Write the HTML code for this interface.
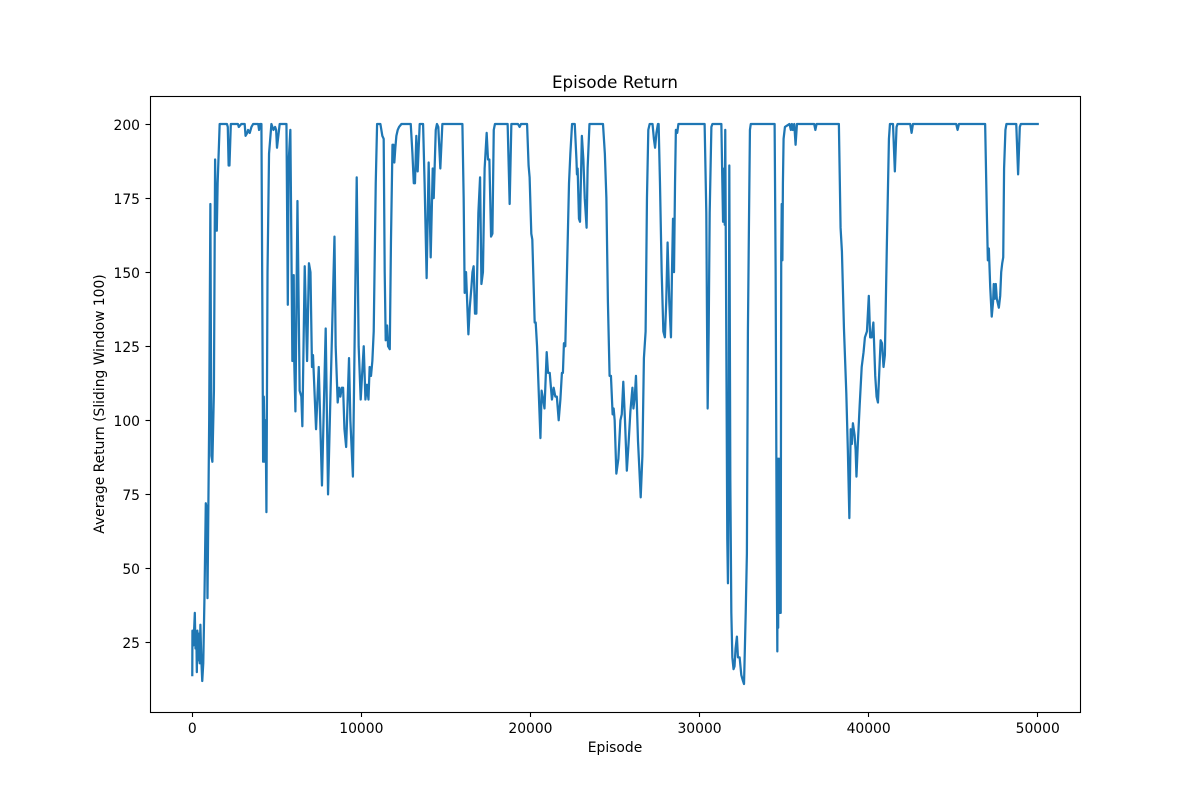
<!DOCTYPE html>
<html>
<head>
<meta charset="utf-8">
<title>Episode Return</title>
<style>
html,body{margin:0;padding:0;background:#fff;}
svg{display:block;}
text{font-family:"DejaVu Sans",sans-serif;fill:#000;}
</style>
</head>
<body>
<svg id="chart" width="1200" height="800" viewBox="0 0 1200 800" xmlns="http://www.w3.org/2000/svg">
  <rect x="0" y="0" width="1200" height="800" fill="#ffffff"/>
  <rect x="150" y="96" width="930" height="616" fill="#ffffff"/>
  <g id="marks"></g>
  <rect x="150.5" y="96.5" width="930" height="616" fill="none" stroke="#000" stroke-width="1.1"/>
  <g id="x-axis"></g>
  <g id="y-axis"></g>
  <text x="615" y="88" text-anchor="middle" font-size="16.67">Episode Return</text>
  <text x="615" y="752" text-anchor="middle" font-size="13.89">Episode</text>
  <text transform="translate(104,404) rotate(-90)" text-anchor="middle" font-size="13.89">Average Return (Sliding Window 100)</text>
</svg>
<script>
const xTicks = [0, 10000, 20000, 30000, 40000, 50000];
const yTicks = [25, 50, 75, 100, 125, 150, 175, 200];
const episodes = [
0,10,60,100,150,190,240,270,300,350,400,440,480,530,590,650,720,800,860,900,1000,1070,1130,1190,1280,1350,1400,1450,1500,1620,
2050,2100,2150,2200,2280,2700,2750,2900,3100,3150,3250,3300,3400,3500,3600,3900,3950,4000,4090,4190,4230,4290,4340,4385,4450,4540,4680,4800,4900,4960,5010,5130,5170,5570,5650,5700,5800,5860,5920,6000,6030,6100,6220,6350,6450,6510,6650,6790,6900,6990,7080,7140,7320,7480,7670,7890,8030,8170,8410,8480,8600,8680,8760,8840,8920,9000,9100,9270,9350,9500,
9725,9840,9960,10140,10240,10330,10420,10490,10570,10650,10730,10850,10930,11125,11240,11320,11380,11440,11520,11580,11680,11750,11840,11895,11950,12010,12070,12150,12230,12370,12920,13020,13100,13170,13250,13330,13450,13650,13740,13860,13980,14100,14220,14280,14400,14470,14550,14670,14790,15975,16050,16110,16190,16330,16410,16510,16570,16640,16720,16800,16920,17020,17100,17190,17290,17410,17490,17570,17670,17750,17830,17900,18650,18770,18870,19260,19360,19440,19800,19890,19950,20050,20110,20250,20310,20390,20590,20660,20750,20830,20960,21040,21140,21270,21370,21470,21560,21670,21770,21860,21920,21980,22060,22160,22280,22360,22460,22620,22720,22750,22790,22870,22930,23040,23130,23210,23320,23380,23490,24290,24400,24490,24580,24680,24760,24860,24920,24980,25080,25200,25320,25400,25490,25590,25700,25800,25910,26030,26090,26170,26240,26360,26420,26520,26620,26710,26810,26890,26970,27050,27220,27300,27370,27450,27540,27580,27660,27760,27860,27950,28030,28110,28210,28310,28370,28430,28490,28550,28600,28680,28750,
30300,30400,30440,30480,30540,30600,30700,30760,31290,31350,31390,31460,31490,31520,31580,31640,31680,31720,31760,31820,31880,31940,32010,32070,32130,32210,32270,32370,32470,32570,32630,32730,32800,32860,32920,32980,33030,34440,34500,34560,34600,34625,34650,34675,34700,34725,34750,34780,34800,34830,34860,34900,34930,34970,35050,35320,35400,35460,35520,35600,35680,35760,36780,36850,36920,38180,38240,38340,38420,38540,38680,38770,38860,38940,39010,39070,39170,39230,39280,39360,39470,39590,39700,39780,39900,40010,40090,40180,40280,40390,40470,40550,40710,40790,40880,40960,41080,41200,41260,41440,41550,41650,41710,42460,42540,42620,45180,45260,45340,46890,46990,47050,47110,47190,47280,47360,47400,47460,47520,47580,47700,47780,47840,47900,47960,48010,48090,48150,48730,48840,48940,49000,50000
];
const returns = [
14,29,24,28,35,23,28,15,29,19,28,18,31,20,12,18,40,72,70,40,100,173,88,86,110,188,164,164,180,200,
200,199,186,186,200,200,199,200,200,196,197,198,197,199,200,200,198,200,200,86,108,86,100,69,150,190,200,198,199,198,192,198,200,200,139,187,198,160,120,149,120,103,174,110,108,98,152,120,153,150,118,122,97,118,78,131,75,108,162,125,106,111,108,111,111,97,91,121,100,81,
182,125,107,125,107,112,107,118,115,120,130,180,200,200,196,195,150,127,132,125,124,160,193,193,187,192,196,198,199,200,200,190,180,180,196,184,200,200,180,148,187,155,185,175,198,200,199,185,200,200,175,143,150,129,138,145,150,152,136,136,170,182,146,150,185,197,188,188,162,163,198,200,200,173,200,200,199,200,200,186,182,163,161,133,133,125,94,110,107,104,123,116,116,107,111,108,108,100,107,116,116,126,125,150,180,190,200,200,188,183,185,168,167,196,188,175,165,185,200,200,190,175,140,115,115,102,104,100,82,87,100,102,113,100,83,92,103,111,104,108,115,93,86,74,88,121,130,175,198,200,200,195,192,197,200,200,180,150,130,128,140,160,140,128,150,168,150,180,198,197,200,
200,170,135,104,130,170,199,200,200,180,167,185,166,198,130,60,45,80,186,80,35,20,16,17,23,27,20,20,14,12,11,35,55,130,165,198,200,200,150,60,22,87,30,87,35,87,35,87,35,155,173,154,180,195,199,200,198,200,198,200,193,200,200,198,200,200,200,165,157,131,109,90,67,97,92,99,95,90,81,92,105,118,123,128,130,142,128,128,133,115,108,106,127,126,118,122,160,195,200,200,184,199,200,200,197,200,200,198,200,200,170,154,158,145,135,140,146,141,146,141,138,142,150,153,155,185,198,200,200,183,199,200,200
];

const svgNS = 'http://www.w3.org/2000/svg';
const xDomain = [-2500, 52500];
const yDomain = [1.55, 209.45];
const plot = { left: 150, right: 1080, top: 96, bottom: 712 };

function xScale(v) {
  return plot.left + (v - xDomain[0]) / (xDomain[1] - xDomain[0]) * (plot.right - plot.left);
}
function yScale(v) {
  return plot.bottom - (v - yDomain[0]) / (yDomain[1] - yDomain[0]) * (plot.bottom - plot.top);
}

const line = document.createElementNS(svgNS, 'path');


line.setAttribute('d', episodes.map(function (e, i) {
  return (i ? 'L' : 'M') + xScale(e).toFixed(2) + ' ' + yScale(returns[i]).toFixed(2);
}).join(''));
line.setAttribute('fill', 'none');
line.setAttribute('stroke', '#1f77b4');
line.setAttribute('stroke-width', '2.25');
line.setAttribute('stroke-linejoin', 'round');
line.setAttribute('stroke-linecap', 'square');
document.getElementById('marks').appendChild(line);

const xAxis = document.getElementById('x-axis');
xTicks.forEach(function (t) {
  const x = xScale(t);
  const snappedX = Math.floor(x) + 0.5;
  const tick = document.createElementNS(svgNS, 'line');
  
  
  tick.setAttribute('x1', snappedX);
  tick.setAttribute('x2', snappedX);
  tick.setAttribute('y1', plot.bottom + 0.5);
  tick.setAttribute('y2', plot.bottom + 5);
  tick.setAttribute('stroke', '#000');
  tick.setAttribute('stroke-width', '1.1');
  xAxis.appendChild(tick);
  const label = document.createElementNS(svgNS, 'text');
  
  
  label.setAttribute('x', x);
  label.setAttribute('y', 733);
  label.setAttribute('text-anchor', 'middle');
  label.setAttribute('font-size', '13.89');
  label.textContent = t;
  xAxis.appendChild(label);
});

const yAxis = document.getElementById('y-axis');
yTicks.forEach(function (t) {
  const y = yScale(t);
  const snappedY = Math.floor(y) + 0.5;
  const tick = document.createElementNS(svgNS, 'line');
  
  
  tick.setAttribute('x1', plot.left - 4.5);
  tick.setAttribute('x2', plot.left + 0.5);
  tick.setAttribute('y1', snappedY);
  tick.setAttribute('y2', snappedY);
  tick.setAttribute('stroke', '#000');
  tick.setAttribute('stroke-width', '1.1');
  yAxis.appendChild(tick);
  const label = document.createElementNS(svgNS, 'text');
  
  
  label.setAttribute('x', 140);
  label.setAttribute('y', snappedY + 5.3);
  label.setAttribute('text-anchor', 'end');
  label.setAttribute('font-size', '13.89');
  label.textContent = t;
  yAxis.appendChild(label);
});
</script>
</body>
</html>
